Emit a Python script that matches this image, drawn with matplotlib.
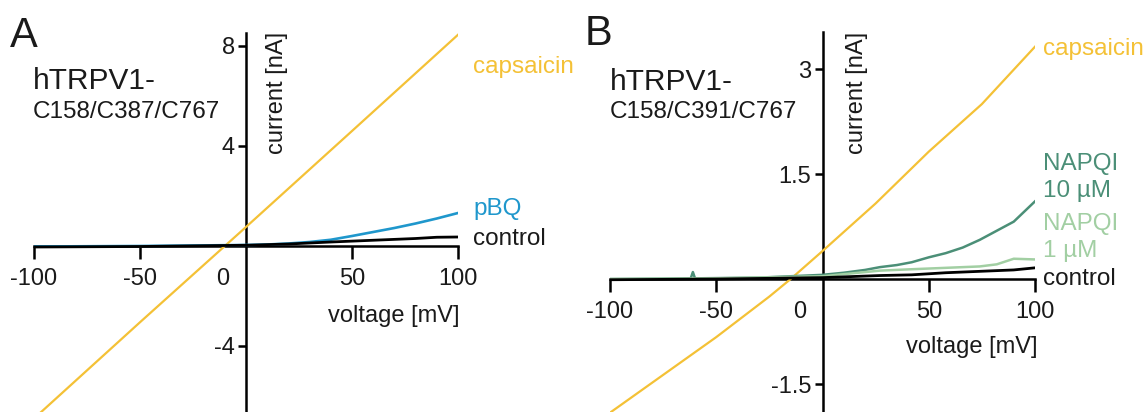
#!/usr/bin/env python3
"""
Current-voltage plots for the hTRPV1 cysteine mutants (panels A and B).
"""

import matplotlib
matplotlib.use('Agg')
import matplotlib.pyplot as plt

plt.rcParams['font.family'] = ['Liberation Sans', 'DejaVu Sans']

W, H = 1143, 412

# Colors
CAPS_COLOR = '#f4c136'
PBQ_COLOR = '#1f97cc'
NAPQI10_COLOR = '#4b8f77'
NAPQI1_COLOR = '#a2cfa3'
TEXT_COLOR = '#1a1a1a'

# Panel A: hTRPV1-C158/C387/C767
volt_a_caps = [-100, -50, 0, 50, 100]
cur_a_caps = [-6.9, -3.05, 0.76, 4.6, 8.45]

volt_a_pbq = [-100, -50, 0, 10, 20, 30, 40, 50, 60, 70, 80, 90, 100]
cur_a_pbq = [-0.02, 0.0, 0.04, 0.06, 0.1, 0.16, 0.25, 0.4, 0.56, 0.72, 0.9, 1.1, 1.32]

volt_a_ctrl = [-100, -50, 0, 20, 40, 60, 80, 90, 100]
cur_a_ctrl = [-0.04, -0.02, 0.03, 0.08, 0.16, 0.23, 0.3, 0.35, 0.36]

# Panel B: hTRPV1-C158/C391/C767
volt_b_caps = [-100, -75, -50, -25, -15, 0, 25, 50, 75, 100]
cur_b_caps = [-1.91, -1.37, -0.83, -0.25, 0.0, 0.40, 1.08, 1.82, 2.5, 3.32]

volt_b_napqi10 = [-100, -62, -61, -60, -30, 0, 10, 20, 27, 35, 42, 50, 58, 66, 74, 82, 90, 100]
cur_b_napqi10 = [0.0, 0.01, 0.1, 0.01, 0.02, 0.06, 0.09, 0.13, 0.17, 0.2, 0.24, 0.31, 0.37, 0.45, 0.56, 0.69, 0.82, 1.11]

volt_b_napqi1 = [-100, -50, 0, 27, 42, 58, 74, 82, 90, 100]
cur_b_napqi1 = [0.0, 0.01, 0.04, 0.12, 0.14, 0.16, 0.18, 0.21, 0.29, 0.28]

volt_b_ctrl = [-100, -50, 0, 27, 42, 58, 74, 90, 100]
cur_b_ctrl = [-0.01, 0.0, 0.02, 0.05, 0.06, 0.09, 0.11, 0.13, 0.16]

x_ticks = [-100, -50, 50, 100]
y_ticks_a = [-4, 4, 8]
y_ticks_b = [-1.5, 1.5, 3]


def px(x, y):
    """Pixel position (from top-left) to figure fraction."""
    return x / W, 1 - y / H


def setup_axes(ax, yticks, ylim):
    """Cross-shaped axes through the origin."""
    ax.set_xlim(-100, 100)
    ax.set_ylim(*ylim)
    for side in ('top', 'right'):
        ax.spines[side].set_visible(False)
    for side in ('left', 'bottom'):
        ax.spines[side].set_position(('data', 0))
        ax.spines[side].set_linewidth(1.8)
        ax.spines[side].set_zorder(1)
    ax.set_xticks(x_ticks)
    ax.set_xticklabels([str(v) for v in x_ticks])
    ax.set_yticks(yticks)
    ax.set_yticklabels([f'{v:g}' for v in yticks])
    ax.tick_params(axis='x', direction='out', length=9, width=1.8, pad=7,
                   labelsize=17, labelcolor=TEXT_COLOR)
    ax.tick_params(axis='y', direction='out', length=6, width=1.8, pad=2,
                   labelsize=17, labelcolor=TEXT_COLOR)
    ax.patch.set_alpha(0)
    # zero label sits left of the y axis
    ax.annotate('0', xy=(0, 0), xytext=(-16.5, -24), textcoords='offset points',
                ha='center', va='center', fontsize=17, color=TEXT_COLOR)


def fig_text(x, y, s, **kw):
    fx, fy = px(x, y)
    kw.setdefault('color', TEXT_COLOR)
    kw.setdefault('va', 'baseline')
    return plt.gcf().text(fx, fy, s, **kw)


def main():
    fig = plt.figure(figsize=(W / 100, H / 100), dpi=100)
    fig.patch.set_facecolor('white')

    # Panel A
    ax_a = fig.add_axes([34 / W, 0, 424 / W, 379 / H])
    setup_axes(ax_a, y_ticks_a, (-6.64, 8.52))
    ax_a.plot(volt_a_caps, cur_a_caps, color=CAPS_COLOR, lw=1.6, zorder=2)
    ax_a.plot(volt_a_pbq, cur_a_pbq, color=PBQ_COLOR, lw=1.9, zorder=3)
    ax_a.plot(volt_a_ctrl, cur_a_ctrl, color='black', lw=2.0, zorder=4)

    # Panel B
    ax_b = fig.add_axes([610 / W, 0, 425 / W, 380 / H])
    setup_axes(ax_b, y_ticks_b, (-1.9, 3.53))
    ax_b.plot(volt_b_caps, cur_b_caps, color=CAPS_COLOR, lw=1.6, zorder=2)
    ax_b.plot(volt_b_napqi10, cur_b_napqi10, color=NAPQI10_COLOR, lw=1.8, zorder=3)
    ax_b.plot(volt_b_napqi1, cur_b_napqi1, color=NAPQI1_COLOR, lw=1.8, zorder=3)
    ax_b.plot(volt_b_ctrl, cur_b_ctrl, color='black', lw=2.0, zorder=4)

    # Panel letters and construct names
    fig_text(10, 47, 'A', fontsize=30)
    fig_text(33, 89, 'hTRPV1-', fontsize=21.5)
    fig_text(33, 118, 'C158/C387/C767', fontsize=17.5)
    fig_text(585, 45, 'B', fontsize=30)
    fig_text(610, 90, 'hTRPV1-', fontsize=21.5)
    fig_text(610, 118, 'C158/C391/C767', fontsize=17.5)

    # Axis titles
    fig_text(277, 32, 'current [nA]', fontsize=17, rotation=90, ha='center', va='top')
    fig_text(857, 32, 'current [nA]', fontsize=17, rotation=90, ha='center', va='top')
    fig_text(460, 322, 'voltage [mV]', fontsize=17, ha='right')
    fig_text(1038, 353, 'voltage [mV]', fontsize=17, ha='right')

    # Trace labels
    fig_text(473, 73, 'capsaicin', fontsize=17.5, color=CAPS_COLOR)
    fig_text(473, 215, 'pBQ', fontsize=17.5, color=PBQ_COLOR)
    fig_text(473, 245, 'control', fontsize=17.5)
    fig_text(1043, 55, 'capsaicin', fontsize=17.5, color=CAPS_COLOR)
    fig_text(1043, 170, 'NAPQI', fontsize=17.5, color=NAPQI10_COLOR)
    fig_text(1043, 197, '10 µM', fontsize=17.5, color=NAPQI10_COLOR)
    fig_text(1043, 230, 'NAPQI', fontsize=17.5, color=NAPQI1_COLOR)
    fig_text(1043, 257, '1 µM', fontsize=17.5, color=NAPQI1_COLOR)
    fig_text(1043, 285, 'control', fontsize=17.5)

    fig.savefig('out.png', dpi=100, facecolor='white')
    plt.close(fig)


if __name__ == '__main__':
    main()
